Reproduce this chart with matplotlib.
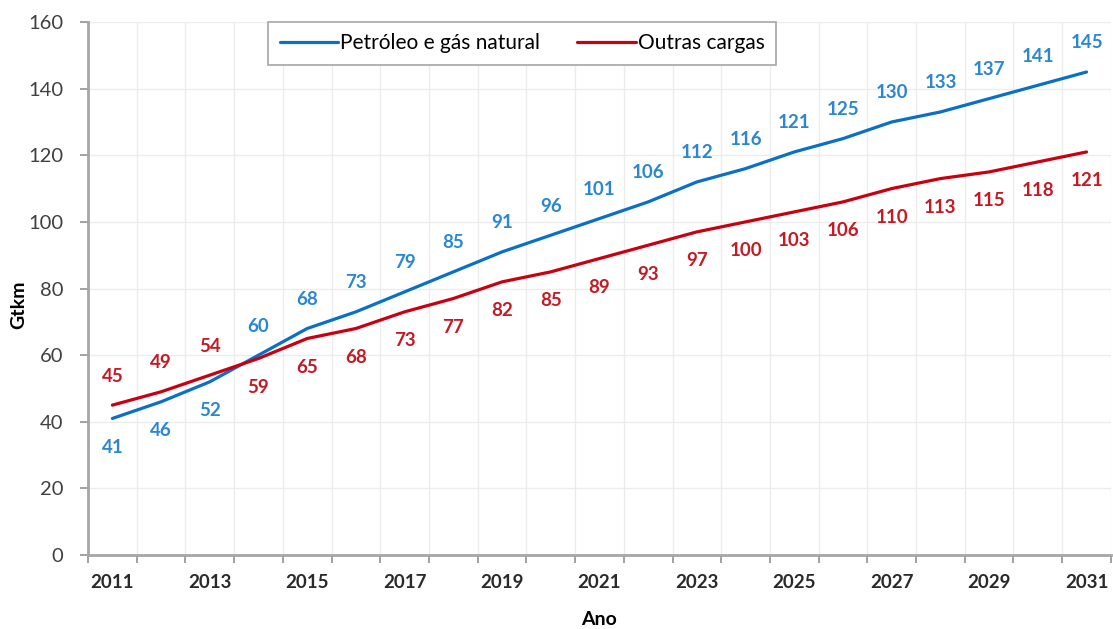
import matplotlib
matplotlib.use("Agg")
import matplotlib.pyplot as plt
from matplotlib.ticker import FixedLocator, NullFormatter

plt.rcParams['font.family'] = ['Lato', 'DejaVu Sans']

years = list(range(2011, 2032))
petroleo = [41, 46, 52, 60, 68, 73, 79, 85, 91, 96, 101, 106, 112, 116, 121, 125, 130, 133, 137, 141, 145]
outras = [45, 49, 54, 59, 65, 68, 73, 77, 82, 85, 89, 93, 97, 100, 103, 106, 110, 113, 115, 118, 121]

blue_line = '#0a70c4'
blue_lbl = '#2b87d1'
red_line = '#c8000f'
red_lbl = '#c41a24'

fig = plt.figure(figsize=(11.13, 6.29), dpi=100)
ax = fig.add_axes([0.0791, 0.1176, 0.919, 0.8474])

x = list(range(len(years)))
ax.plot(x, petroleo, color=blue_line, lw=2.3, label='Petróleo e gás natural', solid_capstyle='round')
ax.plot(x, outras, color=red_line, lw=2.3, label='Outras cargas', solid_capstyle='round')

# labels: higher series above the line, lower one below
for i in x:
    b, r = petroleo[i], outras[i]
    b_off = 29 if b >= r else -29
    r_off = -29 if b >= r else 29
    ax.annotate(str(b), (i, b), xytext=(0, b_off), textcoords='offset pixels',
                ha='center', va='center', color=blue_lbl, fontsize=13.5, fontweight='bold')
    ax.annotate(str(r), (i, r), xytext=(0, r_off), textcoords='offset pixels',
                ha='center', va='center', color=red_lbl, fontsize=13.5, fontweight='bold')

ax.set_xlim(-0.5, len(years) - 0.5)
ax.set_ylim(0, 160)
ax.set_yticks(range(0, 161, 20))

# category boundaries as major ticks, labels every other year at centres
ax.xaxis.set_major_locator(FixedLocator([i - 0.5 for i in range(len(years) + 1)]))
ax.xaxis.set_major_formatter(NullFormatter())
ax.xaxis.set_minor_locator(FixedLocator(x[::2]))
ax.set_xticklabels([str(y) for y in years[::2]], minor=True)
ax.tick_params(axis='x', which='minor', length=0, pad=14, labelsize=13.5, labelcolor='#2a2a2a')
ax.tick_params(axis='x', which='major', length=6, width=1.3, color='#9a9a9a', direction='out')
ax.tick_params(axis='y', length=6, width=1.3, color='#9a9a9a', labelsize=14.5, labelcolor='#404040', pad=12)
for lbl in ax.get_xticklabels(minor=True):
    lbl.set_fontweight('bold')

ax.grid(True, which='major', color='#ececec', lw=1)
ax.set_axisbelow(True)
for s in ['top', 'right']:
    ax.spines[s].set_visible(False)
for s in ['left', 'bottom']:
    ax.spines[s].set_color('#a6a6a6')
    ax.spines[s].set_linewidth(2)

ax.set_ylabel('Gtkm', fontsize=14, fontweight='bold')
ax.yaxis.set_label_coords(-0.059, 0.47)
ax.set_xlabel('Ano', fontsize=14, fontweight='bold', labelpad=14)

leg = ax.legend(loc='upper left', bbox_to_anchor=(0.176, 1.0), ncol=2, fontsize=15,
                frameon=True, fancybox=False, edgecolor='#a6a6a6', framealpha=1,
                handlelength=2.8, handletextpad=0.1, columnspacing=1.8, borderpad=0.55,
                borderaxespad=0)
leg.get_frame().set_linewidth(1.2)

fig.savefig('out.png', dpi=100)
